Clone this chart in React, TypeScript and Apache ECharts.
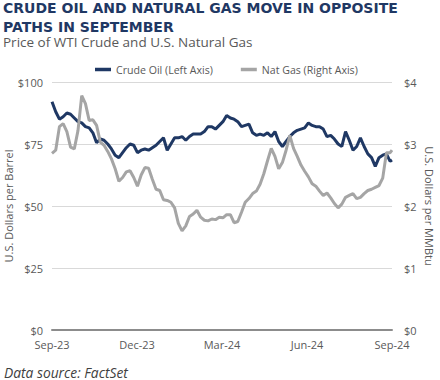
import React, { useEffect, useRef } from "react";
import * as echarts from "echarts";

const START = "2023-09-27";
const END = "2024-09-27";

const dates = [
  "2023-09-27", "2023-10-01", "2023-10-05", "2023-10-09", "2023-10-13", "2023-10-17", "2023-10-21", "2023-10-25",
  "2023-10-29", "2023-11-02", "2023-11-06", "2023-11-10", "2023-11-14", "2023-11-18", "2023-11-22", "2023-11-26",
  "2023-11-30", "2023-12-04", "2023-12-08", "2023-12-12", "2023-12-16", "2023-12-20", "2023-12-24", "2023-12-28",
  "2024-01-01", "2024-01-05", "2024-01-09", "2024-01-13", "2024-01-17", "2024-01-21", "2024-01-25", "2024-01-29",
  "2024-02-02", "2024-02-06", "2024-02-10", "2024-02-14", "2024-02-18", "2024-02-22", "2024-02-26", "2024-03-01",
  "2024-03-05", "2024-03-09", "2024-03-13", "2024-03-17", "2024-03-21", "2024-03-25", "2024-03-29", "2024-04-02",
  "2024-04-06", "2024-04-10", "2024-04-14", "2024-04-18", "2024-04-22", "2024-04-26", "2024-04-30", "2024-05-04",
  "2024-05-08", "2024-05-12", "2024-05-16", "2024-05-20", "2024-05-24", "2024-05-28", "2024-06-01", "2024-06-05",
  "2024-06-09", "2024-06-13", "2024-06-17", "2024-06-21", "2024-06-25", "2024-06-29", "2024-07-03", "2024-07-07",
  "2024-07-11", "2024-07-15", "2024-07-19", "2024-07-23", "2024-07-27", "2024-07-31", "2024-08-04", "2024-08-08",
  "2024-08-12", "2024-08-16", "2024-08-20", "2024-08-24", "2024-08-28", "2024-09-01", "2024-09-05", "2024-09-09",
  "2024-09-13", "2024-09-17", "2024-09-21", "2024-09-25", "2024-09-27",
];

const crudeOil = [
  92, 88, 85, 86, 87.5, 87, 85.5, 84,
  83.5, 82, 81.5, 79.5, 75.5, 77, 76.5, 75,
  73, 70.5, 69.5, 71.5, 73.5, 75, 74.5, 71.5,
  72.5, 73, 72.5, 73.5, 74.5, 76, 77.5, 72.5,
  75, 77.5, 77.5, 78, 76.5, 78, 79, 79,
  79, 80, 82, 82, 81, 82.5, 84, 86.5,
  85.5, 85, 84, 82, 82.5, 83, 79.5, 78.5,
  79, 78.5, 79.5, 78, 80, 76, 74, 76,
  78, 79.5, 80.5, 81, 81.5, 83.5, 82.5, 82,
  82, 81, 78, 78.5, 77, 75, 74, 80,
  76.5, 72.5, 74, 77.5, 74, 71, 69.5, 66,
  69.5, 70.5, 71, 68, 68.5,
];

const natGas = [
  2.85, 2.9, 3.28, 3.33, 3.2, 2.95, 2.92, 3.22,
  3.78, 3.65, 3.38, 3.39, 3.3, 3.03, 2.98, 2.88,
  2.76, 2.6, 2.4, 2.46, 2.55, 2.57, 2.46, 2.32,
  2.5, 2.62, 2.61, 2.43, 2.27, 2.25, 2.1, 2.09,
  2.06, 1.97, 1.72, 1.6, 1.68, 1.83, 1.87, 1.93,
  1.82, 1.77, 1.76, 1.79, 1.78, 1.82, 1.81, 1.86,
  1.86, 1.73, 1.75, 1.9, 2.06, 2.12, 2.2, 2.24,
  2.35, 2.52, 2.73, 2.93, 2.8, 2.6, 2.7, 2.9,
  3.14, 2.93, 2.8, 2.66, 2.56, 2.47, 2.36, 2.32,
  2.24, 2.17, 2.21, 2.13, 2.04, 1.97, 2.03, 2.14,
  2.17, 2.2, 2.12, 2.14, 2.2, 2.25, 2.27, 2.3,
  2.33, 2.45, 2.86, 2.86, 2.9,
];

const xTickLabels = ["Sep-23", "Dec-23", "Mar-24", "Jun-24", "Sep-24"];
const seriesNames = ["Crude Oil (Left Axis)", "Nat Gas (Right Axis)"];

const DAY = 86400000;
const dayOffset = (d: string) => Math.round((Date.parse(d) - Date.parse(START)) / DAY);
const SPAN = dayOffset(END);

const TEXT = "#595959";
const FONT = "'Open Sans', sans-serif";

export default function App() {
  const ref = useRef<HTMLDivElement>(null);
  useEffect(() => {
    if (!ref.current) return;
    const chart = echarts.init(ref.current, undefined, { renderer: "svg" });
    const oilData = dates.map((d, i) => [dayOffset(d), crudeOil[i]]);
    const gasData = dates.map((d, i) => [dayOffset(d), natGas[i]]);
    chart.setOption({
      animation: false,
      backgroundColor: "#ffffff",
      textStyle: { fontFamily: FONT },
      graphic: [
        {
          type: "text", left: 3, top: 1,
          style: { text: "CRUDE OIL AND NATURAL GAS MOVE IN OPPOSITE", fill: "#1F3864", font: "bold 14px 'DejaVu Sans', sans-serif", lineHeight: 14 },
        },
        {
          type: "text", left: 3, top: 19.5,
          style: { text: "PATHS IN SEPTEMBER", fill: "#1F3864", font: "bold 14px 'DejaVu Sans', sans-serif", lineHeight: 14 },
        },
        {
          type: "text", left: 3, top: 35,
          style: { text: "Price of WTI Crude and U.S. Natural Gas", fill: TEXT, font: "13.5px 'Open Sans', sans-serif", lineHeight: 14 },
        },
        {
          type: "text", left: 4, top: 365,
          style: { text: "Data source: FactSet", fill: "#404040", font: "italic 13.8px 'Open Sans', sans-serif", lineHeight: 14 },
        },
      ],
      legend: {
        top: 59, left: 90, itemGap: 28, itemWidth: 16, itemHeight: 3.5, icon: "rect",
        textStyle: { color: TEXT, fontSize: 10.6, fontFamily: FONT },
        data: seriesNames,
      },
      grid: { left: 52, right: 48, top: 82, bottom: 50, containLabel: false, outerBoundsMode: "none" },
      xAxis: {
        type: "value", min: 0, max: SPAN, interval: SPAN / 4,
        axisLine: { show: true, lineStyle: { color: "#8C8C8C", width: 2 } },
        axisTick: { show: false },
        splitLine: { show: false },
        axisLabel: {
          color: TEXT, fontSize: 11, margin: 9,
          formatter: (v: number) => xTickLabels[Math.round(v / (SPAN / 4))] ?? "",
        },
      },
      yAxis: [
        {
          type: "value", min: 0, max: 100, interval: 25,
          name: "U.S. Dollars per Barrel", nameLocation: "middle", nameGap: 38, nameRotate: 90,
          nameMoveOverlap: false,
          nameTextStyle: { color: TEXT, fontSize: 11 },
          axisLine: { show: false }, axisTick: { show: false },
          axisLabel: { color: TEXT, fontSize: 11, margin: 9, formatter: (v: number) => "$" + v },
          splitLine: { lineStyle: { color: "#D9D9D9", width: 1 } },
        },
        {
          type: "value", min: 0, max: 4, interval: 1, position: "right",
          name: "U.S. Dollars per MMBtu", nameLocation: "middle", nameGap: 32, nameRotate: -90,
          nameMoveOverlap: false,
          nameTextStyle: { color: TEXT, fontSize: 11 },
          axisLine: { show: false }, axisTick: { show: false },
          axisLabel: { color: TEXT, fontSize: 11, margin: 12, formatter: (v: number) => "$" + v },
          splitLine: { show: false },
        },
      ],
      series: [
        {
          name: seriesNames[0], type: "line", yAxisIndex: 0, data: oilData, showSymbol: false,
          lineStyle: { color: "#1F3864", width: 3 }, itemStyle: { color: "#1F3864" },
        },
        {
          name: seriesNames[1], type: "line", yAxisIndex: 1, data: gasData, showSymbol: false,
          lineStyle: { color: "#A5A5A5", width: 3 }, itemStyle: { color: "#A5A5A5" },
        },
      ],
    });
    return () => chart.dispose();
  }, []);
  return <div ref={ref} style={{ position: "fixed", left: 0, top: 0, width: 440, height: 380 }} />;
}
